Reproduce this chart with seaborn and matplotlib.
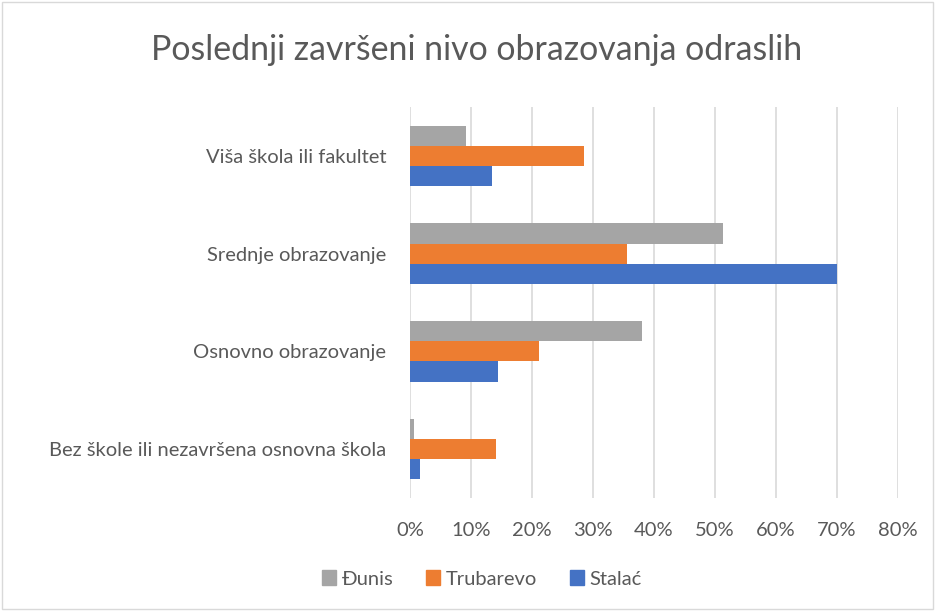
import matplotlib.pyplot as plt
import matplotlib.patches as mpatches
import seaborn as sns
import pandas as pd

categories = [
    "Viša škola ili fakultet",
    "Srednje obrazovanje",
    "Osnovno obrazovanje",
    "Bez škole ili nezavršena osnovna škola",
]
series = ["Đunis", "Trubarevo", "Stalać"]
dunis = [9.2, 51.3, 38.1, 0.7]
trubarevo = [28.5, 35.5, 21.2, 14.1]
stalac = [13.5, 70.0, 14.4, 1.6]
xticks = [0, 10, 20, 30, 40, 50, 60, 70, 80]

colors = ["#A5A5A5", "#ED7D31", "#4472C4"]
text_color = "#595959"

df = pd.DataFrame({
    "kategorija": categories * 3,
    "mesto": [s for s in series for _ in categories],
    "vrednost": dunis + trubarevo + stalac,
})

sns.set_style("white")
plt.rcParams["font.family"] = ["Lato", "DejaVu Sans"]

fig = plt.figure(figsize=(9.35, 6.11), dpi=100)
ax = fig.add_axes([410 / 935, 1 - 498 / 611, 488 / 935, 391 / 611])

sns.barplot(
    data=df, y="kategorija", x="vrednost", hue="mesto",
    order=categories, hue_order=series, palette=colors, saturation=1,
    orient="h", width=0.62, ax=ax, legend=False, zorder=3, linewidth=0,
)

ax.set_xlim(0, 80)
ax.set_xticks(xticks)
ax.set_xticklabels([f"{t}%" for t in xticks])
ax.grid(axis="x", color="#D9D9D9", linewidth=1.2, zorder=0)
ax.set_axisbelow(True)
sns.despine(ax=ax, left=True, bottom=True)
ax.set_xlabel("")
ax.set_ylabel("")
ax.tick_params(axis="both", length=0, labelsize=14.5, labelcolor=text_color)
ax.tick_params(axis="y", pad=17)
ax.tick_params(axis="x", pad=17)

fig.text(477 / 935, 1 - 50 / 611, "Poslednji završeni nivo obrazovanja odraslih",
         ha="center", va="center", fontsize=24.4, color=text_color)

handles = [mpatches.Patch(color=c, label=s) for c, s in zip(colors, series)]
fig.legend(handles=handles, loc="center", bbox_to_anchor=(482 / 935, 1 - 579 / 611),
           ncol=3, frameon=False, fontsize=14.5, labelcolor=text_color,
           handlelength=0.7, handleheight=0.7, handletextpad=0.3, columnspacing=1.6)

fig.patches.append(mpatches.Rectangle((0.002, 0.003), 0.996, 0.994, transform=fig.transFigure,
                                      fill=False, edgecolor="#D9D9D9", linewidth=1))

fig.savefig("out.png", dpi=100)
